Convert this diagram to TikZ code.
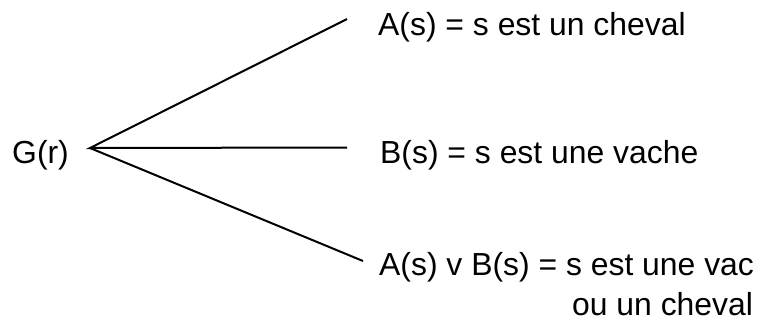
\documentclass[tikz,border=0pt]{standalone}
\usepackage{fontspec}
\setmainfont{Liberation Sans}
\begin{document}
\begin{tikzpicture}[x=1bp,y=-1bp,
  lbl/.style={anchor=base west,inner sep=0pt,font=\fontsize{32}{38}\selectfont},
  branch/.style={line width=2bp,black}]
\useasboundingbox (0,0) rectangle (757,327);
\node[lbl] (g) at (12,163.5) {G(r)};
\coordinate (apex) at (90,148);
\coordinate (ea) at (347,19);
\coordinate (eb) at (347,147.5);
\coordinate (ec) at (363,261);
\node[lbl] (a) at (378,35) {A(s) = s est un cheval};
\node[lbl] (b) at (380,163.5) {B(s) = s est une vache};
\node[lbl] (c) at (379,275) {A(s) v B(s) = s est une vac};
\node[lbl] (c2) at (572,315) {ou un cheval};
\draw[branch] (ea) -- (apex) -- (eb);
\draw[branch] (apex) -- (ec);
\end{tikzpicture}
\end{document}
